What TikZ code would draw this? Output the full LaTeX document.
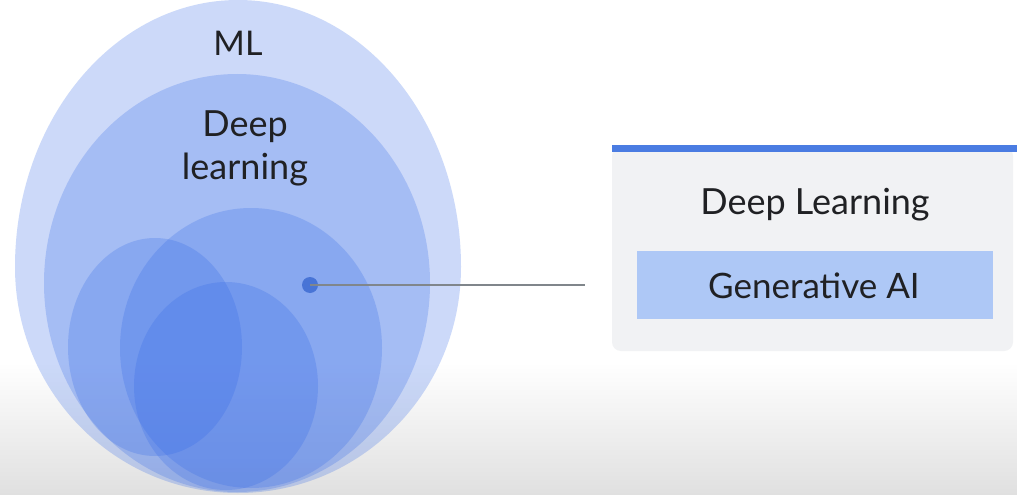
\documentclass[tikz,border=0pt]{standalone}
\usepackage{fontspec}
\setmainfont{Lato}
\begin{document}
\begin{tikzpicture}[x=1pt,y=-1pt,
  layer/.style={fill=venn, fill opacity=0.25, draw=none},
  label/.style={text=ink, font=\fontsize{#1}{#1}\selectfont, inner sep=0pt},
  label/.default=34]
\definecolor{venn}{RGB}{52,106,232}
\definecolor{ink}{RGB}{32,33,36}
\definecolor{panel}{RGB}{241,242,244}
\definecolor{bar}{RGB}{74,124,226}
\definecolor{chip}{RGB}{174,200,246}
\definecolor{wire}{RGB}{128,134,139}
\definecolor{dotc}{RGB}{72,116,214}

% canvas with a soft grey fade at the bottom
\useasboundingbox (0,0) rectangle (1017,495);
\fill[white] (0,0) rectangle (1017,362);
\fill[top color=white, bottom color={rgb,255:red,224;green,224;blue,224}] (0,362) rectangle (1017,495);

\begin{scope}
\clip (0,0) rectangle (1017,495);
% nested sets: ML is egg shaped, flatter at the bottom
\fill[layer] (15,267) arc[start angle=180, end angle=360, x radius=223, y radius=267]
                      arc[start angle=0, end angle=180, x radius=223, y radius=226] -- cycle;
\fill[layer] (237,283) ellipse [x radius=193, y radius=209];   % deep learning
\fill[layer] (251,348) ellipse [x radius=131, y radius=140];   % generative AI
\fill[layer] (155,347) ellipse [x radius=87,  y radius=109];
\fill[layer] (226,386) ellipse [x radius=92,  y radius=104];
\end{scope}

\node[label=34] (ml) at (238,43) {ML};
\node[label=36] (dl1) at (245,127) {Deep};
\node[label=36] (dl2) at (245,170) {learning};

% pointer from the generative AI set to the legend
\node[circle, fill=dotc, minimum size=16pt, inner sep=0pt] (dot) at (310,285) {};
\coordinate (tip) at (585,285);
\draw[wire, line width=1.4pt] (dot.center) -- (tip);

% legend card
\fill[panel, rounded corners=9pt] (612,147) rectangle (1013,351);
\fill[bar] (612,145) rectangle (1017,152);
\node[fill=chip, minimum width=356pt, minimum height=68pt, inner sep=0pt] (gen) at (815,285) {};
\node[label=36] (dlk) at (815,205) {Deep Learning};
\node[label=35] (genk) at (814,286) {Generative AI};
\end{tikzpicture}
\end{document}
